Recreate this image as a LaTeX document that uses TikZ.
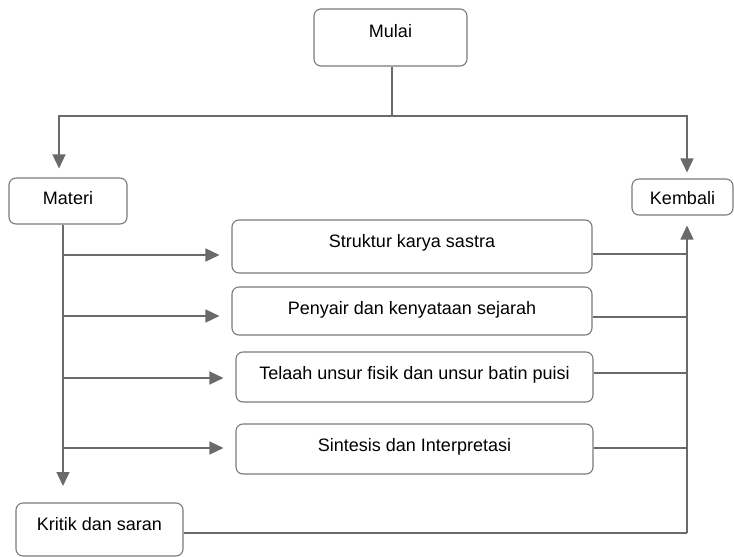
\documentclass[tikz,border=0pt]{standalone}
\usepackage{fontspec}
\setmainfont{Liberation Sans}
\usepackage{tikz}
\usetikzlibrary{arrows.meta,calc}

\definecolor{lnc}{HTML}{6A6A6A}
\definecolor{bxc}{HTML}{7A7A7A}

\begin{document}
\begin{tikzpicture}[
    x=1pt, y=-1pt,
    box/.style={rectangle, draw=bxc, line width=1.1pt, rounded corners=7pt, align=center, inner sep=0pt, font=\fontsize{18}{20}\selectfont, text height=13pt},
    ln/.style={draw=lnc, line width=1.4pt},
    arr/.style={ln, -{Triangle[length=14pt,width=13pt]}}
]
    \useasboundingbox (0,0) rectangle (734,557);

    \node [box, minimum width=153pt, minimum height=57pt, text depth=14pt] (mulai) at (390.5,37.5) {Mulai};
    \node [box, minimum width=118pt, minimum height=46pt, text depth=7pt] (materi) at (68,201) {Materi};
    \node [box, minimum width=101pt, minimum height=36pt, text height=14pt, text depth=0pt] (kembali) at (682.5,197) {Kembali};
    \node [box, minimum width=360pt, minimum height=53pt, text depth=12pt] (sb1) at (412,246.5) {Struktur karya sastra};
    \node [box, minimum width=360pt, minimum height=48pt, text depth=7pt] (sb2) at (412,311) {Penyair dan kenyataan sejarah};
    \node [box, minimum width=357pt, minimum height=50pt, text depth=9pt] (sb3) at (414.5,377) {Telaah unsur fisik dan unsur batin puisi};
    \node [box, minimum width=357pt, minimum height=50pt, text depth=9pt] (sb4) at (414.5,449) {Sintesis dan Interpretasi};
    \node [box, minimum width=167pt, minimum height=53pt, text depth=12pt] (kritik) at (99.5,529.5) {Kritik dan saran};

    \coordinate (jt) at (392,116);
    \coordinate (mb) at (63,486);
    \coordinate (kr) at (687,533);

    % dari Mulai
    \draw [ln] (mulai.south -| jt) -- (jt);
    \draw [arr] (jt) -| ([xshift=-9pt,yshift=9pt]materi.north);
    \draw [arr] (jt) -| ([xshift=4.5pt,yshift=6pt]kembali.north);

    % cabang Materi
    \draw [arr] (materi.south -| mb) -- (mb);
    \foreach \n/\y in {sb1/255, sb2/316, sb3/378, sb4/448}
        \draw [arr] (mb |- 0,\y) -- ([xshift=-12pt]\n.west |- 0,\y);

    % kembali
    \foreach \n/\y in {sb1/254, sb2/317, sb3/373, sb4/448}
        \draw [ln] (\n.east |- 0,\y) -- (kr |- 0,\y);
    \draw [ln] (kritik.east |- kr) -- (kr);
    \draw [arr] (kr) -- ([xshift=4.5pt,yshift=-10pt]kembali.south);
\end{tikzpicture}
\end{document}
